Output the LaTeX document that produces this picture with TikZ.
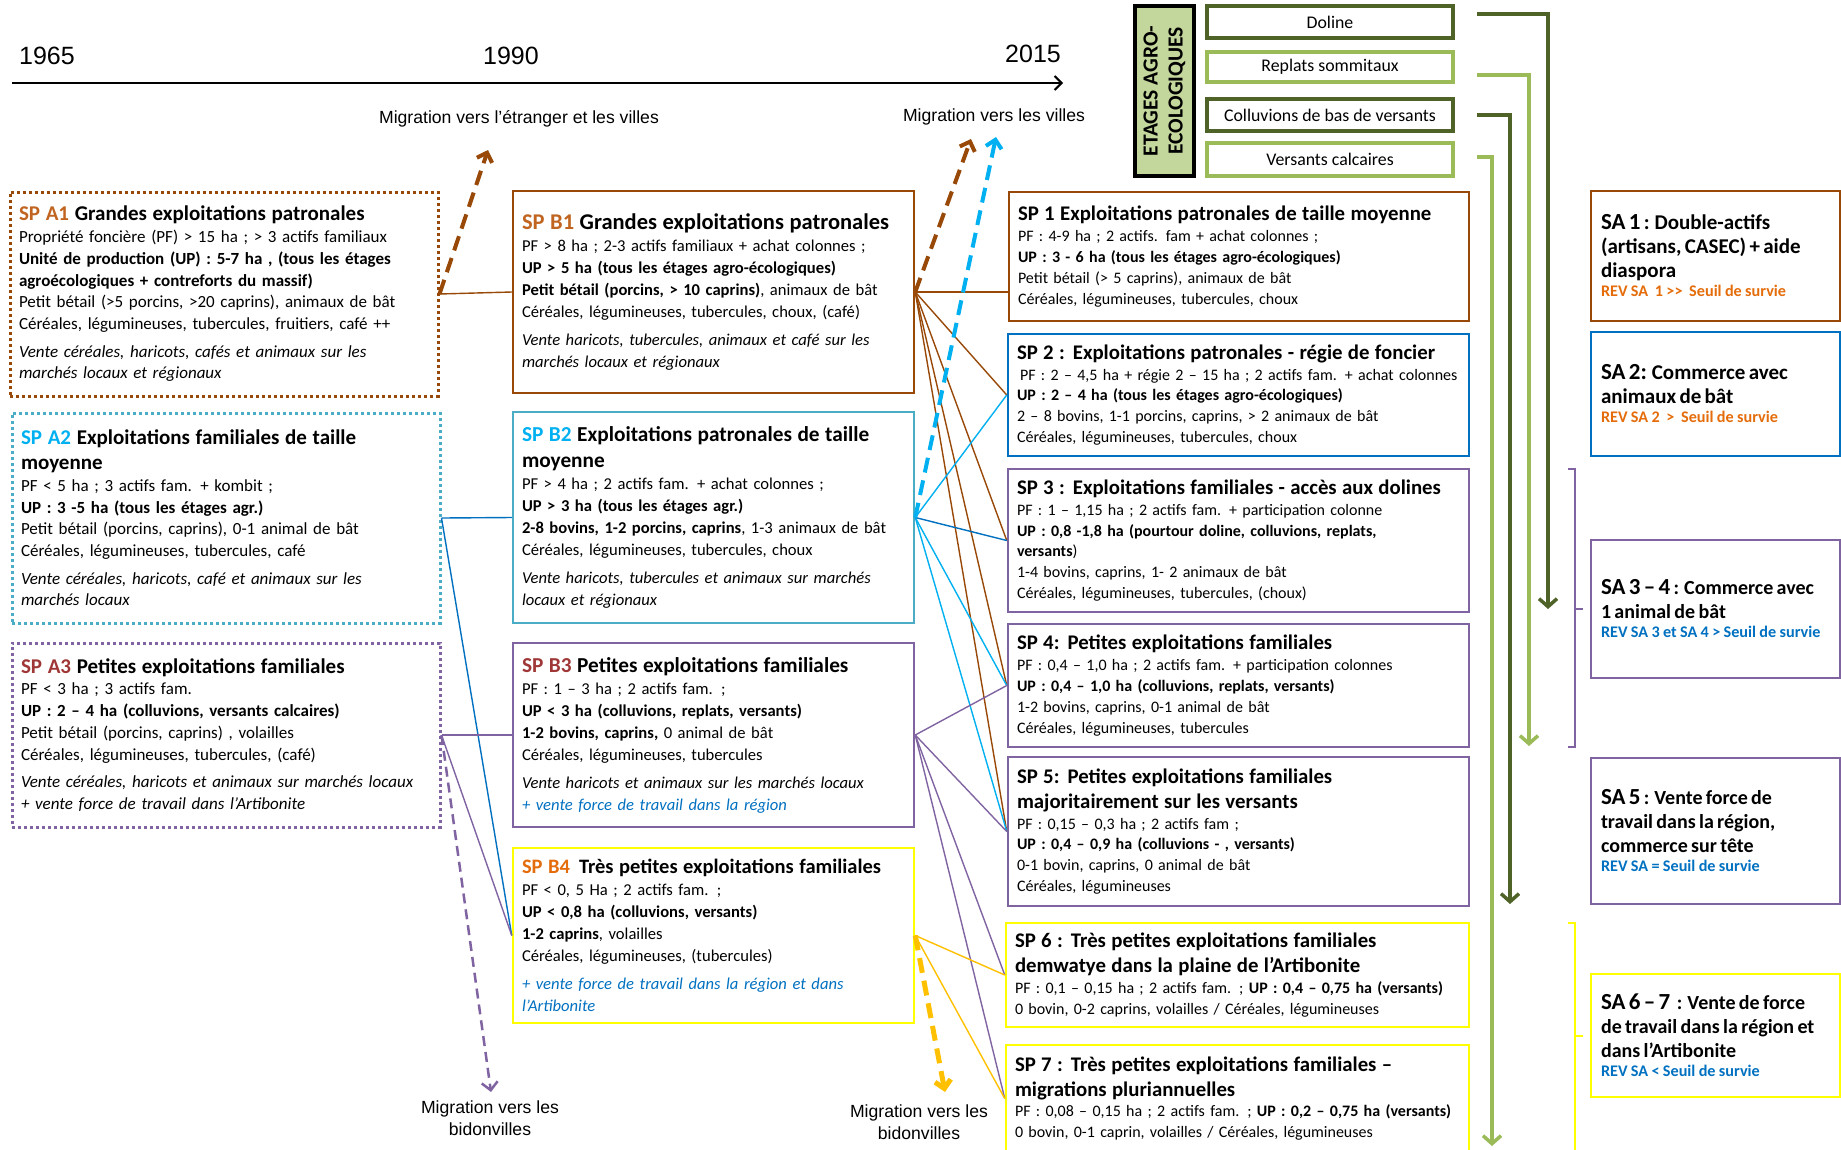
\documentclass[tikz,border=0pt]{standalone}
\usepackage{fontspec}
\setmainfont{Carlito}
\newfontfamily\arialfont{Liberation Sans}
\usetikzlibrary{arrows.meta}

\definecolor{brun}{RGB}{152,72,7}
\definecolor{brunclair}{RGB}{192,100,32}
\definecolor{cyanbox}{RGB}{75,172,198}
\definecolor{cyanvif}{RGB}{0,176,240}
\definecolor{bleu}{RGB}{0,112,192}
\definecolor{spviolet}{RGB}{128,100,162}
\definecolor{rougefonce}{RGB}{160,55,55}
\definecolor{orangevif}{RGB}{228,108,10}
\definecolor{jaune}{RGB}{255,255,0}
\definecolor{dore}{RGB}{255,192,0}
\definecolor{vertfonce}{RGB}{79,98,40}
\definecolor{vertclair}{RGB}{155,187,89}
\definecolor{vertfond}{RGB}{195,214,155}

\hyphenpenalty=10000
\exhyphenpenalty=10000

\newcommand{\corpsA}{\fontsize{17}{21.7}\selectfont}
\newcommand{\corpsB}{\fontsize{16.6}{22}\selectfont}
\newcommand{\corpsSP}{\fontsize{16}{20.8}\selectfont}
\newcommand{\titreA}{\fontsize{21}{25}\selectfont\bfseries}
\newcommand{\titreB}{\fontsize{21.3}{26}\selectfont\bfseries}
\newcommand{\titreSP}{\fontsize{20.8}{25}\selectfont\bfseries}
\newcommand{\satxt}{\fontsize{20}{24}\selectfont\bfseries}
\newcommand{\satitre}{\fontsize{23}{24}\selectfont}
\newcommand{\rev}{\fontsize{16.2}{19}\selectfont\bfseries}

\begin{document}
\begin{tikzpicture}[x=1pt, y=-1pt,
  box/.style={rectangle, draw=#1, line width=2.5pt, inner sep=0pt, align=left},
  dotbox/.style={box=#1, line width=3pt, dash pattern=on 3pt off 3pt},
  etagebox/.style={box=#1, line width=4pt, align=center, minimum width=246pt, font=\fontsize{17.8}{20}\selectfont},
  link/.style={draw=#1, line width=1.4pt},
  migr/.style={draw=#1, line width=4pt, dash pattern=on 15pt off 8pt, -{Straight Barb[length=8pt,width=16pt]}},
  etage/.style={draw=#1, line width=3.5pt, -{Straight Barb[length=8pt,width=18pt]}},
  migtxt/.style={font=\arialfont\fontsize{17.6}{22}\selectfont, align=center},
  year/.style={font=\arialfont\fontsize{25}{30}\selectfont}]

\useasboundingbox (0,0) rectangle (1841,1149);

% frise chronologique
\coordinate (t0) at (12,83);
\coordinate (t1) at (1063,83);
\draw[line width=2pt, -{Straight Barb[length=7pt,width=14pt]}] (t0) -- (t1);
\node[year] (y1965) at (47,56) {1965};
\node[year] (y1990) at (511,56) {1990};
\node[year] (y2015) at (1033,54) {2015};

% systemes de production 1965
\node[dotbox=brun, font=\corpsA, minimum width=428pt, minimum height=204pt, text width=410pt] (spA1) at (224,294) {%
{\titreA\textcolor{brunclair}{SP A1} Grandes exploitations patronales\par}
Propriété foncière (PF) > 15 ha ; > 3 actifs familiaux\\
\textbf{Unité de production (UP) : 5-7 ha , (tous les étages}\\
\textbf{agroécologiques + contreforts du massif)}\\
Petit bétail (>5 porcins, >20 caprins), animaux de bât\\
Céréales, légumineuses, tubercules, fruitiers, café ++\par\vspace{6pt}
\textit{Vente céréales, haricots, cafés et animaux sur les}\\
\textit{marchés locaux et régionaux}};

\node[dotbox=cyanbox, font=\corpsA, minimum width=428pt, minimum height=210pt, text width=410pt] (spA2) at (226,518) {%
{\titreA\textcolor{cyanvif}{SP A2} Exploitations familiales de taille\\ moyenne\par}
PF < 5 ha ; 3 actifs fam. + kombit ;\\
\textbf{UP : 3 -5 ha (tous les étages agr.)}\\
Petit bétail (porcins, caprins), 0-1 animal de bât\\
Céréales, légumineuses, tubercules, café\par\vspace{6pt}
\textit{Vente céréales, haricots, café et animaux sur les}\\
\textit{marchés locaux}};

\node[dotbox=spviolet, font=\corpsA, minimum width=428pt, minimum height=184pt, text width=410pt] (spA3) at (226,735) {%
{\titreA\textcolor{rougefonce}{SP A3} Petites exploitations familiales\par}
PF < 3 ha ; 3 actifs fam.\\
\textbf{UP : 2 – 4 ha (colluvions, versants calcaires)}\\
Petit bétail (porcins, caprins) , volailles\\
Céréales, légumineuses, tubercules, (café)\par\vspace{6pt}
\textit{Vente céréales, haricots et animaux sur marchés locaux}\\
\textit{+ vente force de travail dans l’Artibonite}};

% systemes de production 1990
\node[box=brun, font=\corpsB, minimum width=401pt, minimum height=202pt, text width=383pt] (spB1) at (713.5,292) {%
{\titreB\fontsize{22.5}{27}\selectfont\textcolor{brunclair}{SP B1} Grandes exploitations patronales\par}
PF > 8 ha ; 2-3 actifs familiaux + achat colonnes ;\\
\textbf{UP > 5 ha (tous les étages agro-écologiques)}\\
\textbf{Petit bétail (porcins, > 10 caprins)}, animaux de bât\\
Céréales, légumineuses, tubercules, choux, (café)\par\vspace{6pt}
\textit{Vente haricots, tubercules, animaux et café sur les}\\
\textit{marchés locaux et régionaux}\par\vspace{14pt}};

\node[box=cyanbox, font=\corpsB, minimum width=401pt, minimum height=211pt, text width=383pt] (spB2) at (713.5,517.5) {%
{\titreB\textcolor{cyanvif}{SP B2} Exploitations patronales de taille\\ moyenne\par}
PF > 4 ha ; 2 actifs fam. + achat colonnes ;\\
\textbf{UP > 3 ha (tous les étages agr.)}\\
\textbf{2-8 bovins, 1-2 porcins, caprins}, 1-3 animaux de bât\\
Céréales, légumineuses, tubercules, choux\par\vspace{6pt}
\textit{Vente haricots, tubercules et animaux sur marchés}\\
\textit{locaux et régionaux}};

\node[box=spviolet, font=\corpsB, minimum width=401pt, minimum height=184pt, text width=383pt] (spB3) at (713.5,735) {%
{\titreB\textcolor{rougefonce}{SP B3} Petites exploitations familiales\par}
PF : 1 – 3 ha ; 2 actifs fam. ;\\
\textbf{UP < 3 ha (colluvions, replats, versants)}\\
\textbf{1-2 bovins, caprins,} 0 animal de bât\\
Céréales, légumineuses, tubercules\par\vspace{6pt}
\textit{Vente haricots et animaux sur les marchés locaux}\\
\textcolor{bleu}{\textit{+ vente force de travail dans la région}}};

\node[box=jaune, font=\corpsB, minimum width=401pt, minimum height=175pt, text width=383pt] (spB4) at (713.5,935.5) {%
{\titreB\fontsize{20.5}{25}\selectfont\textcolor{orangevif}{SP B4}\hspace{9pt}Très petites exploitations familiales\par}
PF < 0, 5 Ha ; 2 actifs fam. ;\\
\textbf{UP < 0,8 ha (colluvions, versants)}\\
\textbf{1-2 caprins}, volailles\\
Céréales, légumineuses, (tubercules)\par\vspace{6pt}
\textcolor{bleu}{\textit{+ vente force de travail dans la région et dans}}\\
\textcolor{bleu}{\textit{l’Artibonite}}};

% systemes de production 2015
\node[box=brun, font=\corpsSP, minimum width=460pt, minimum height=129pt, text width=442pt] (sp1) at (1239,256.5) {%
{\titreSP SP 1 Exploitations patronales de taille moyenne\par}
PF : 4-9 ha ; 2 actifs. fam + achat colonnes ;\\
\textbf{UP : 3 - 6 ha (tous les étages agro-écologiques)}\\
Petit bétail (> 5 caprins), animaux de bât\\
Céréales, légumineuses, tubercules, choux};

\node[box=bleu, font=\corpsSP, minimum width=461pt, minimum height=122pt, text width=443pt] (sp2) at (1238.5,395) {%
{\titreSP SP 2 : Exploitations patronales - régie de foncier\par}
\hspace{3pt}PF : 2 – 4,5 ha + régie 2 – 15 ha ; 2 actifs fam. + achat colonnes\\
\textbf{UP : 2 – 4 ha (tous les étages agro-écologiques)}\\
2 – 8 bovins, 1-1 porcins, caprins, > 2 animaux de bât\\
Céréales, légumineuses, tubercules, choux};

\node[box=spviolet, font=\corpsSP, minimum width=461pt, minimum height=143pt, text width=443pt] (sp3) at (1238.5,540.5) {%
{\titreSP SP 3 : Exploitations familiales - accès aux dolines\par}
PF : 1 – 1,15 ha ; 2 actifs fam. + participation colonne\\
\textbf{UP : 0,8 -1,8 ha (pourtour doline, colluvions, replats,}\\
\textbf{versants})\\
1-4 bovins, caprins, 1- 2 animaux de bât\\
Céréales, légumineuses, tubercules, (choux)};

\node[box=spviolet, font=\corpsSP, minimum width=461pt, minimum height=123pt, text width=443pt] (sp4) at (1238.5,685.5) {%
{\titreSP SP 4: Petites exploitations familiales\par}
PF : 0,4 – 1,0 ha ; 2 actifs fam. + participation colonnes\\
\textbf{UP : 0,4 – 1,0 ha (colluvions, replats, versants)}\\
1-2 bovins, caprins, 0-1 animal de bât\\
Céréales, légumineuses, tubercules};

\node[box=spviolet, font=\corpsSP, minimum width=461pt, minimum height=149pt, text width=443pt] (sp5) at (1238.5,831.5) {%
{\titreSP SP 5: Petites exploitations familiales\\ majoritairement sur les versants\par}
PF : 0,15 – 0,3 ha ; 2 actifs fam ;\\
\textbf{UP : 0,4 – 0,9 ha (colluvions - , versants)}\\
0-1 bovin, caprins, 0 animal de bât\\
Céréales, légumineuses};

\node[box=jaune, font=\corpsSP, minimum width=463pt, minimum height=104pt, text width=445pt] (sp6) at (1237.5,975) {%
{\titreSP SP 6 : Très petites exploitations familiales\\ demwatye dans la plaine de l’Artibonite\par}
PF : 0,1 – 0,15 ha ; 2 actifs fam. ; \textbf{UP : 0,4 – 0,75 ha (versants)}\\
0 bovin, 0-2 caprins, volailles / Céréales, légumineuses};

\node[box=jaune, font=\corpsSP, minimum width=463pt, minimum height=107pt, text width=445pt] (sp7) at (1237.5,1098.5) {%
{\titreSP SP 7 : Très petites exploitations familiales –\\ migrations pluriannuelles\par}
PF : 0,08 – 0,15 ha ; 2 actifs fam. ; \textbf{UP : 0,2 – 0,75 ha (versants)}\\
0 bovin, 0-1 caprin, volailles / Céréales, légumineuses};

% systemes d'activite
\node[box=brun, minimum width=249pt, minimum height=130pt, text width=229pt] (sa1) at (1715.5,256) {%
{\satxt\fontsize{21}{24}\selectfont{\satitre SA 1} : Double-actifs\\ (artisans, CASEC) + aide\\ diaspora\par}
{\rev\color{orangevif}REV SA\ \ 1 >{}>\ \ Seuil de survie\par}};

\node[box=bleu, minimum width=249pt, minimum height=124pt, text width=229pt] (sa2) at (1715.5,394) {%
{\satxt\fontsize{21}{24}\selectfont{\satitre SA 2:} Commerce avec\\ animaux de bât\par}
{\rev\color{orangevif}REV SA 2\ \ >\ \ Seuil de survie\par}};

\node[box=spviolet, minimum width=249pt, minimum height=138pt, text width=229pt] (sa34) at (1715.5,609) {%
{\satxt{\satitre SA 3 – 4} : Commerce avec\\ 1 animal de bât\par}
{\rev\color{bleu}REV SA 3 et SA 4 > Seuil de survie\par}};

\node[box=spviolet, minimum width=249pt, minimum height=146pt, text width=229pt] (sa5) at (1715.5,831) {%
{\satxt{\satitre SA 5} : Vente force de\\ travail dans la région,\\ commerce sur tête\par}
{\rev\color{bleu}REV SA = Seuil de survie\par}};

\node[box=jaune, minimum width=249pt, minimum height=123pt, text width=229pt] (sa67) at (1715.5,1035.5) {%
{\satxt{\satitre SA 6 – 7}\ \ : Vente de force\\ de travail dans la région et\\ dans l’Artibonite\par}
{\rev\color{bleu}REV SA < Seuil de survie\par}};

% etages agro-ecologiques
\node[box=black, line width=4pt, fill=vertfond, rotate=90, align=center, minimum width=170pt, minimum height=59pt, font=\fontsize{21.5}{25}\selectfont\bfseries] (etages) at (1164.5,91) {ETAGES AGRO-\\ECOLOGIQUES};
\node[etagebox=vertfonce, minimum height=32pt] (doline) at (1330,22) {Doline};
\node[etagebox=vertclair, minimum height=30pt] (replats) at (1330,67) {Replats sommitaux};
\node[etagebox=vertfonce, minimum height=32pt] (colluv) at (1330,115) {Colluvions de bas de versants};
\node[etagebox=vertclair, minimum height=33pt] (versants) at (1330,159.5) {Versants calcaires};

\coordinate (gDol) at (1477,14);
\coordinate (gRep) at (1477,75);
\coordinate (gCol) at (1477,115);
\coordinate (gVer) at (1477,157);
\draw[etage=vertfonce] (gDol) -| (1548,609);
\draw[etage=vertclair] (gRep) -| (1529,746);
\draw[etage=vertfonce] (gCol) -| (1510,904);
\draw[etage=vertclair] (gVer) -| (1492,1146);

% accolades
\draw[spviolet, line width=1.2pt] (1568,469) -- (1575,469) -- (1575,747) -- (1568,747);
\draw[spviolet, line width=1.2pt] (1575,609) -- (1583,609);
\draw[jaune, line width=1.5pt] (1568,923) -- (1575,923) -- (1575,1160);
\draw[jaune, line width=1.5pt] (1575,1036) -- (1583,1036);

% liens 1965 -> 1990
\draw[link=brun] (spA1.east) -- (spB1.west);
\draw[link=bleu] (spA2.east) -- (spB2.west);
\draw[link=bleu] (spA2.east) -- (spB4.west);
\draw[link=spviolet] (spA3.east) -- (spB3.west);
\draw[link=spviolet] (spA3.east) -- (spB4.west);

% liens 1990 -> 2015
\draw[link=brun] (spB1.east) -- (spB1.east -| sp1.west);
\foreach \t in {sp2,sp3,sp4,sp5}
  \draw[link=brun] (spB1.east) -- (\t.west);
\foreach \t in {sp2,sp4,sp5}
  \draw[link=cyanvif] (spB2.east) -- (\t.west);
\draw[link=bleu] (spB2.east) -- (sp3.west);
\foreach \t in {sp4,sp5,sp6,sp7}
  \draw[link=spviolet] (spB3.east) -- (\t.west);
\foreach \t in {sp6,sp7}
  \draw[link=dore] (spB4.east) -- (\t.west);

% migrations
\node[migtxt] (txtEtr) at (519,119) {Migration vers l’étranger et les villes};
\node[migtxt] (txtVil) at (994,117) {Migration vers les villes};
\node[migtxt] (txtBidA) at (490,1118) {Migration vers les\\bidonvilles};
\node[migtxt] (txtBidB) at (919,1122) {Migration vers les\\bidonvilles};

\coordinate (mEtr) at (488,150);
\coordinate (mVil1) at (971,139);
\coordinate (mVil2) at (996,137);
\coordinate (mBidA) at (491,1092);
\coordinate (mBidB) at (945,1092);
\draw[migr=brun] (spA1.east) -- (mEtr);
\draw[migr=brun] (spB1.east) -- (mVil1);
\draw[migr=cyanvif] (spB2.east) -- (mVil2);
\draw[migr=spviolet, line width=2.5pt, dash pattern=on 10pt off 6pt] (spA3.east) -- (mBidA);
\draw[migr=dore, line width=5pt] (spB4.east) -- (mBidB);
\end{tikzpicture}
\end{document}
